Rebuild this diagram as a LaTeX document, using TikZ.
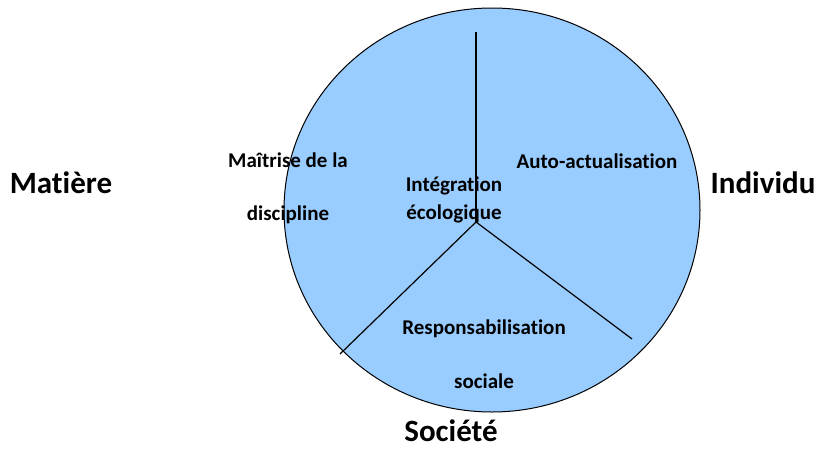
\documentclass[tikz,border=0pt]{standalone}
\usepackage{fontspec}
\setmainfont[Ligatures={NoCommon}]{Carlito}
\definecolor{pieblue}{HTML}{99CCFF}
\begin{document}
\begin{tikzpicture}[x=1pt,y=-1pt,
  small/.style={font=\bfseries\fontsize{21}{24}\selectfont, inner sep=0pt},
  big/.style={font=\bfseries\fontsize{31}{36}\selectfont, inner sep=0pt},
  divider/.style={draw=black, line width=1.2pt}]
\useasboundingbox (0,0) rectangle (819,450);
\draw[fill=pieblue, line width=1pt] (492,210) ellipse [x radius=208, y radius=202];
\coordinate (c) at (476,222);
\coordinate (top) at (476,32);
\coordinate (bl) at (340,354);
\coordinate (br) at (632,339);
\draw[divider] (top) -- (c);
\draw[divider] (c) -- (bl);
\draw[divider] (c) -- (br);
\node[small] (m1) at (288,160) {Maîtrise de la};
\node[small] (m2) at (288,215) {discipline};
\node[small] (i1) at (454,186) {Intégration};
\node[small] (i2) at (454,214) {écologique};
\node[small] (a1) at (597,161) {Auto-actualisation};
\node[small] (r1) at (484,329) {Responsabilisation};
\node[small] (r2) at (484,381) {sociale};
\node[big] (mat) at (61,183) {Matière};
\node[big] (ind) at (763,183) {Individu};
\node[big] (soc) at (451,431) {Société};
\end{tikzpicture}
\end{document}
